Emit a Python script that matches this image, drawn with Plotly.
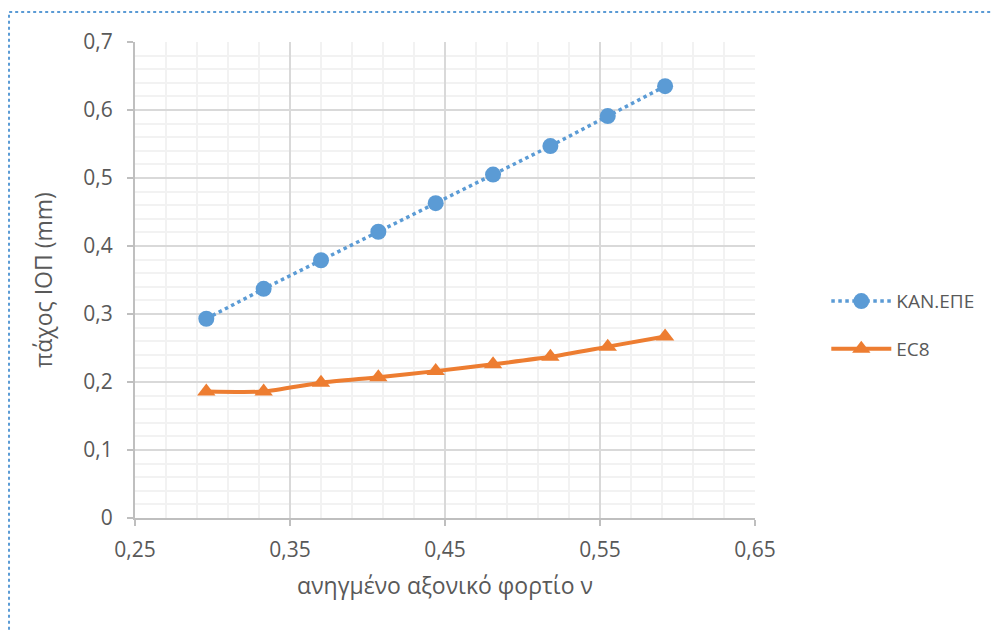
import plotly.graph_objects as go

# Reduced axial load ν and resulting thickness (mm)
axial_load = [0.296, 0.333, 0.370, 0.407, 0.444, 0.481, 0.518, 0.555, 0.592]
kan_epe = [0.293, 0.337, 0.379, 0.421, 0.463, 0.505, 0.547, 0.591, 0.635]
ec8 = [0.186, 0.186, 0.199, 0.207, 0.216, 0.226, 0.237, 0.252, 0.267]

series_names = ["ΚΑΝ.ΕΠΕ", "EC8"]
x_title = "ανηγμένο αξονικό φορτίο ν"
y_title = "πάχος ΙΟΠ (mm)"

BLUE = "#5B9BD5"
ORANGE = "#ED7D31"
TEXT = "#595959"
FONT = "Open Sans"

fig = go.Figure()

fig.add_trace(go.Scatter(
    x=axial_load, y=kan_epe, name=series_names[0], mode="lines+markers",
    line=dict(color=BLUE, width=3.5, dash="dot"),
    marker=dict(symbol="circle", size=16, color=BLUE),
    legendgroup="a",
))
fig.add_trace(go.Scatter(
    x=axial_load, y=ec8, name=series_names[1], mode="lines+markers",
    line=dict(color=ORANGE, width=4, shape="spline", smoothing=0.6),
    marker=dict(symbol="triangle-up", size=16, color=ORANGE),
    legendgroup="b",
))

axis_common = dict(
    showline=True, linecolor="#BFBFBF", linewidth=2,
    gridcolor="#D9D9D9", gridwidth=1.5,
    ticks="outside", ticklen=6, tickcolor="#BFBFBF", tickwidth=1.5,
    tickfont=dict(family=FONT, size=21, color=TEXT),
    zeroline=False,
)

fig.update_xaxes(
    range=[0.25, 0.65], tick0=0.25, dtick=0.1,
    minor=dict(dtick=0.02, tick0=0.25, showgrid=True, gridcolor="#F2F2F2",
               gridwidth=1.5, ticks=""),
    ticklabelstandoff=6,
    title=dict(text=x_title, font=dict(family=FONT, size=23, color=TEXT), standoff=16),
    **axis_common,
)
fig.update_yaxes(
    range=[0, 0.7], tick0=0, dtick=0.1,
    minor=dict(dtick=0.02, tick0=0, showgrid=True, gridcolor="#F2F2F2",
               gridwidth=1.5, ticks=""),
    ticklabelstandoff=10,
    title=dict(text=y_title, font=dict(family=FONT, size=23, color=TEXT), standoff=24),
    **axis_common,
)

# Dotted frame around the chart area
fig.add_shape(
    type="rect", xref="paper", yref="paper",
    x0=-0.2032, x1=1.41, y0=-0.3, y1=1.063,
    line=dict(color=BLUE, width=2, dash="dot"), fillcolor="rgba(0,0,0,0)",
    layer="above",
)

fig.update_layout(
    width=993, height=630,
    margin=dict(l=135, r=238, t=42, b=112),
    paper_bgcolor="white", plot_bgcolor="white",
    separators=",.",
    font=dict(family=FONT, color=TEXT),
    legend=dict(
        x=1.115, y=0.405, xanchor="left", yanchor="middle",
        font=dict(family=FONT, size=19, color=TEXT),
        tracegroupgap=20, itemwidth=60,
        bgcolor="rgba(0,0,0,0)",
    ),
    showlegend=True,
)

fig.write_html("out.html")
